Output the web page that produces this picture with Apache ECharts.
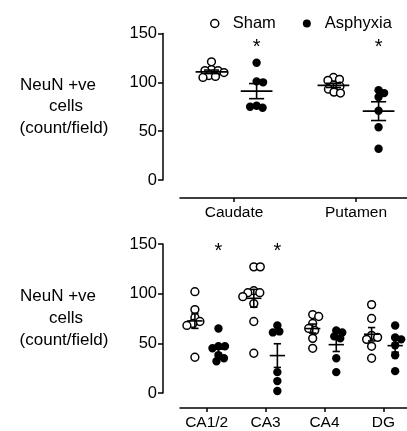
<!DOCTYPE html>
<html>
<head>
<meta charset="utf-8">
<script src="https://cdn.jsdelivr.net/npm/echarts@6/dist/echarts.min.js"></script>
<style>
html, body { margin: 0; padding: 0; background: #fff; }
#main { width: 407px; height: 431px; }
</style>
</head>
<body>
<div id="main"></div>
<script>
// 上图: 纹状体
var topCats = ['Caudate', 'Putamen'];
var topSham = [
    [121, 113, 112, 112, 110, 107, 106, 105],
    [105, 103, 102, 97, 96, 93, 90, 89]
];
var topAsph = [
    [120, 101, 100, 76, 75, 74],
    [92, 89, 85, 71, 54, 32]
];
var topStars = ['*', '*'];

// 下图: 海马
var botCats = ['CA1/2', 'CA3', 'CA4', 'DG'];
var botSham = [
    [102, 84, 76, 72, 70, 68, 36],
    [127, 127, 103, 101, 101, 97, 90, 72, 40],
    [79, 77, 70, 65, 63, 55, 45],
    [89, 75, 58, 56, 54, 47, 35]
];
var botAsph = [
    [65, 47, 47, 45, 38, 35, 32],
    [68, 62, 61, 21, 12, 2],
    [63, 61, 57, 55, 35, 21],
    [68, 56, 54, 48, 38, 22]
];
var botStars = ['*', '*', '', ''];

var yTicks = [0, 50, 100, 150];
var starLevel = [136, 142];

var FONT = 'Liberation Sans, Arial, sans-serif';
var topShift = 0.185;
var botShift = 0.2;

// 简单的蜂群排布, 返回每个点的横向偏移
function swarm(pts, d) {
    var placed = [];
    var out = [];
    var side = 1;
    for (var i = 0; i < pts.length; i++) {
        var y = pts[i][1];
        var dx = 0;
        for (var k = 0; k <= 120; k++) {
            var m = k * 0.5;
            var ok1 = true, ok2 = true;
            for (var j = 0; j < placed.length; j++) {
                var dy = y - placed[j][1];
                var a = m * side - placed[j][0];
                var b = -m * side - placed[j][0];
                if (a * a + dy * dy < d * d) ok1 = false;
                if (b * b + dy * dy < d * d) ok2 = false;
            }
            if (ok1) { dx = m * side; break; }
            if (ok2) { dx = -m * side; break; }
        }
        if (dx !== 0) side = dx > 0 ? -1 : 1;
        placed.push([dx, y]);
        out.push(dx);
    }
    return out;
}

function stats(vals) {
    var n = vals.length, s = 0, ss = 0;
    vals.forEach(function (v) { s += v; });
    var mean = s / n;
    vals.forEach(function (v) { ss += (v - mean) * (v - mean); });
    return { mean: mean, sem: Math.sqrt(ss / (n - 1)) / Math.sqrt(n) };
}

function dotsItem(groups, off, hollow) {
    return function (params, api) {
        var ci = api.value(0);
        var vals = groups[ci].slice().sort(function (a, b) { return b - a; });
        var pts = vals.map(function (v) { return api.coord([ci + off, v]); });
        var dx = swarm(pts, 6.2);
        var children = pts.map(function (p, i) {
            return {
                type: 'circle',
                shape: { cx: p[0] + dx[i], cy: p[1], r: hollow ? 3.9 : 4.2 },
                style: hollow ? { fill: '#fff', stroke: '#000', lineWidth: 1.5 } : { fill: '#000' }
            };
        });
        return { type: 'group', children: children };
    };
}

function barItem(groups, off) {
    return function (params, api) {
        var ci = api.value(0);
        var st = stats(groups[ci]);
        var c = api.coord([ci + off, st.mean]);
        var hi = api.coord([ci + off, st.mean + st.sem]);
        var lo = api.coord([ci + off, st.mean - st.sem]);
        var band = api.coord([ci + 1, 0])[0] - api.coord([ci, 0])[0];
        var mw = band * 0.13, cw = band * 0.062;
        var ls = { stroke: '#000', lineWidth: 1.6 };
        return {
            type: 'group',
            children: [
                { type: 'line', shape: { x1: c[0] - mw, y1: c[1], x2: c[0] + mw, y2: c[1] }, style: ls },
                { type: 'line', shape: { x1: c[0], y1: hi[1], x2: c[0], y2: lo[1] }, style: ls },
                { type: 'line', shape: { x1: c[0] - cw, y1: hi[1], x2: c[0] + cw, y2: hi[1] }, style: ls },
                { type: 'line', shape: { x1: c[0] - cw, y1: lo[1], x2: c[0] + cw, y2: lo[1] }, style: ls }
            ]
        };
    };
}

function starItem(stars, off, level) {
    return function (params, api) {
        var ci = api.value(0);
        var p = api.coord([ci + off, level]);
        return {
            type: 'text',
            x: p[0], y: p[1],
            style: { text: stars[ci], font: '20px ' + FONT, fill: '#000', align: 'center', verticalAlign: 'middle' }
        };
    };
}

function panelSeries(idx, cats, sham, asph, stars, shift, level) {
    var data = cats.map(function (c, i) { return [i, 0]; });
    var base = { type: 'custom', xAxisIndex: idx, yAxisIndex: idx, data: data, silent: true };
    return [
        Object.assign({ name: 'Sham', renderItem: dotsItem(sham, -shift, true), z: 2 }, base),
        Object.assign({ name: 'Asphyxia', renderItem: dotsItem(asph, shift, false), z: 2 }, base),
        Object.assign({ name: 'shamBar', renderItem: barItem(sham, -shift), z: 3 }, base),
        Object.assign({ name: 'asphBar', renderItem: barItem(asph, shift), z: 3 }, base),
        Object.assign({ name: 'star', renderItem: starItem(stars, shift, level), z: 3 }, base)
    ];
}

function xAxisOf(idx, cats, min, max, offset) {
    var ticks = cats.map(function (c, i) { return i; });
    return {
        type: 'value', gridIndex: idx, min: min, max: max, offset: offset,
        splitLine: { show: false },
        axisLine: { show: true, onZero: false, lineStyle: { color: '#000', width: 1.5 } },
        axisTick: { show: true, customValues: ticks, length: 4, lineStyle: { color: '#000', width: 1.5 } },
        axisLabel: {
            customValues: ticks, margin: 7, fontSize: 15.5, color: '#000', fontFamily: FONT,
            formatter: function (v) { return cats[Math.round(v)]; }
        }
    };
}

function yAxisOf(idx) {
    return {
        type: 'value', gridIndex: idx,
        min: yTicks[0], max: yTicks[yTicks.length - 1], interval: yTicks[1] - yTicks[0],
        offset: 17,
        splitLine: { show: false },
        axisLine: { show: true, onZero: false, lineStyle: { color: '#000', width: 1.5 } },
        axisTick: { show: true, length: 5, lineStyle: { color: '#000', width: 1.5 } },
        axisLabel: { margin: 6, fontSize: 16.5, color: '#000', fontFamily: FONT }
    };
}

// y轴标题, 三行分别摆放
var yTitle = ['NeuN +ve', 'cells', '(count/field)'];
var titleX = [58, 66, 64];

function titleGraphics(cy) {
    return yTitle.map(function (t, i) {
        return {
            type: 'text', x: titleX[i], y: cy + (i - 1) * 21.7,
            style: { text: t, font: '17px ' + FONT, fill: '#000', align: 'center', verticalAlign: 'middle' }
        };
    });
}

var dom = document.getElementById('main');
var myChart = echarts.init(dom);
var option = {
    backgroundColor: '#fff',
    animation: false,
    legend: {
        left: 205, top: 10,
        itemWidth: 26, itemHeight: 8, itemGap: 27,
        selectedMode: false,
        textStyle: { fontSize: 16.5, color: '#000', fontFamily: FONT },
        data: [
            { name: 'Sham', icon: 'circle', itemStyle: { color: '#fff', borderColor: '#000', borderWidth: 1.5 } },
            { name: 'Asphyxia', icon: 'circle', itemStyle: { color: '#000', borderWidth: 0 } }
        ]
    },
    grid: [
        { left: 180, right: 0, top: 33.5, height: 146.5 },
        { left: 180, right: 0, top: 244, height: 149 }
    ],
    xAxis: [
        xAxisOf(0, topCats, -0.443, 1.418, 18),
        xAxisOf(1, botCats, -0.453, 3.401, 15)
    ],
    yAxis: [yAxisOf(0), yAxisOf(1)],
    graphic: titleGraphics(106.7).concat(titleGraphics(318.5)),
    series: panelSeries(0, topCats, topSham, topAsph, topStars, topShift, starLevel[0])
        .concat(panelSeries(1, botCats, botSham, botAsph, botStars, botShift, starLevel[1]))
};
myChart.setOption(option);
</script>
</body>
</html>
